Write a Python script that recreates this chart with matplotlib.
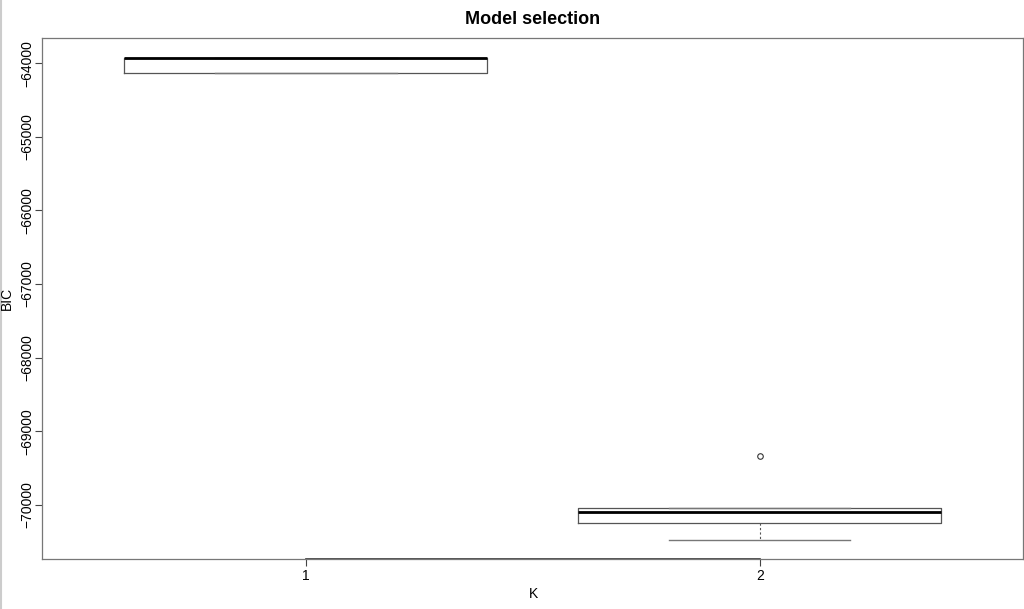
import matplotlib
matplotlib.use('Agg')
import matplotlib.pyplot as plt
from matplotlib.lines import Line2D

plt.rcParams['font.family'] = ['Liberation Sans', 'DejaVu Sans']

# boxplot summary values (BIC per K)
K = [1, 2]
q1 = [-64132, -70250]
med = [-63926, -70092]
q3 = [-63924, -70038]
whislo = [-64132, -70477]
whishi = [-63924, -70038]
fliers = [[], [-69336]]

stats = []
for i in range(len(K)):
    stats.append({'q1': q1[i], 'med': med[i], 'q3': q3[i],
                  'whislo': whislo[i], 'whishi': whishi[i],
                  'fliers': fliers[i]})

fig = plt.figure(figsize=(10.24, 6.09), dpi=100)
ax = fig.add_axes([0.0415, 0.0821, 0.9575, 0.8555])

line_col = '#555555'
ax.bxp(stats, positions=K, widths=0.8,
       boxprops=dict(color=line_col, linewidth=0.9),
       whiskerprops=dict(color=line_col, linewidth=0.8, linestyle=(0, (2, 2))),
       capprops=dict(color='#777777', linewidth=1.0),
       medianprops=dict(color='black', linewidth=2.0),
       flierprops=dict(marker='o', markersize=4, markerfacecolor='none',
                       markeredgecolor='#333333', markeredgewidth=0.8),
       capwidths=0.4)

ax.set_xlim(0.42, 2.58)
ax.set_ylim(-70737, -63656)
ax.set_xticks(K)
ax.set_xticklabels([str(k) for k in K])
ax.set_yticks([-64000, -65000, -66000, -67000, -68000, -69000, -70000])
ax.set_yticklabels(['\u221264000', '\u221265000', '\u221266000', '\u221267000',
                    '\u221268000', '\u221269000', '\u221270000'],
                   rotation=90, va='center')
ax.tick_params(axis='both', direction='out', length=5, width=0.8,
               colors='#444444', labelcolor='black', labelsize=10)
ax.tick_params(axis='x', pad=2)
ax.tick_params(axis='y', pad=1)

for s in ax.spines.values():
    s.set_color('#777777')
    s.set_linewidth(0.9)

# R-style axis segment between the first and last tick
ax.plot([1, 2], [0, 0], transform=ax.get_xaxis_transform(), color='#333333',
        linewidth=1.2, clip_on=False)

ax.set_title('Model selection', fontsize=13, fontweight='bold', pad=10)
fig.text(533 / 1024, 1 - 594 / 609, 'K', fontsize=10, ha='center', va='center')
fig.text(7 / 1024, 1 - 298 / 609, 'BIC', fontsize=10, ha='center', va='center',
         rotation=90)

fig.add_artist(Line2D([0.0008, 0.0008], [0, 1], color='#cccccc', linewidth=1.5))

fig.savefig('out.png', dpi=100)
